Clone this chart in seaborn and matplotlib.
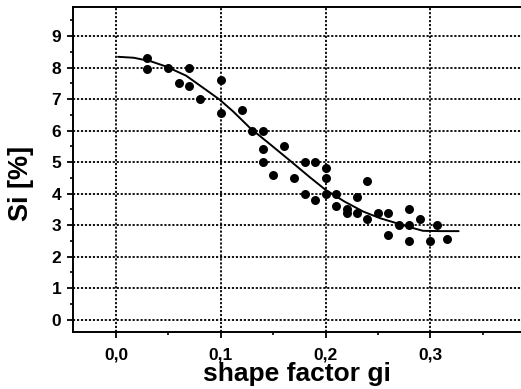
import matplotlib
matplotlib.use("Agg")
import matplotlib.pyplot as plt
import seaborn as sns
import pandas as pd
from matplotlib.ticker import MultipleLocator

# measured points
shape_factor = [0.03, 0.03, 0.05, 0.06, 0.07, 0.07, 0.08, 0.10, 0.10, 0.12,
                0.13, 0.14, 0.14, 0.14, 0.15, 0.16, 0.17, 0.18, 0.18, 0.19,
                0.19, 0.20, 0.20, 0.20, 0.21, 0.21, 0.22, 0.22, 0.23, 0.23,
                0.24, 0.24, 0.25, 0.26, 0.26, 0.27, 0.28, 0.28, 0.28, 0.29,
                0.30, 0.306, 0.316]
si_percent = [8.3, 7.95, 8.0, 7.5, 8.0, 7.4, 7.0, 7.6, 6.55, 6.65,
              6.0, 6.0, 5.4, 5.0, 4.6, 5.5, 4.5, 5.0, 4.0, 5.0,
              3.8, 4.8, 4.5, 4.0, 4.0, 3.6, 3.5, 3.4, 3.9, 3.4,
              4.4, 3.2, 3.4, 3.4, 2.7, 3.0, 3.5, 3.0, 2.5, 3.2,
              2.5, 3.0, 2.55]

# fitted curve
fit_x = [0.002, 0.017, 0.033, 0.048, 0.067, 0.086, 0.099, 0.112, 0.128, 0.148,
         0.167, 0.185, 0.200, 0.218, 0.236, 0.252, 0.268, 0.282, 0.293, 0.310, 0.327]
fit_y = [8.34, 8.31, 8.20, 8.03, 7.74, 7.29, 6.98, 6.60, 6.08, 5.54,
         5.02, 4.52, 4.12, 3.75, 3.43, 3.22, 3.06, 2.92, 2.82, 2.81, 2.81]

x_ticks = [0.0, 0.1, 0.2, 0.3]
x_tick_labels = ["0,0", "0,1", "0,2", "0,3"]
y_ticks = [0, 1, 2, 3, 4, 5, 6, 7, 8, 9]

sns.set_style("ticks")
plt.rcParams['font.family'] = ['Liberation Sans', 'DejaVu Sans']
plt.rcParams['font.weight'] = 'bold'
plt.rcParams['axes.labelcolor'] = 'black'
plt.rcParams['text.color'] = 'black'

fig = plt.figure(figsize=(5.21, 3.89), dpi=100)
ax = fig.add_axes([73/521, (389-332)/389, 1.0 - 73/521, (332-7)/389])

pts = pd.DataFrame({"x": shape_factor, "y": si_percent})
fit = pd.DataFrame({"x": fit_x, "y": fit_y})

sns.lineplot(data=fit, x="x", y="y", ax=ax, color="black", linewidth=1.4,
             sort=False, estimator=None, zorder=3)
sns.scatterplot(data=pts, x="x", y="y", ax=ax, color="black", s=42,
                edgecolor="black", linewidth=0, zorder=4)

ax.set_xlim(-0.041, 0.3865)
ax.set_ylim(-0.39, 9.92)
ax.set_xticks(x_ticks)
ax.set_xticklabels(x_tick_labels)
ax.set_yticks(y_ticks)
ax.xaxis.set_minor_locator(MultipleLocator(0.05))
ax.yaxis.set_minor_locator(MultipleLocator(0.5))

ax.grid(True, which="major", color="black", linestyle=(0, (1.2, 1.0)), linewidth=1.3)
ax.set_axisbelow(True)

for side in ["left", "bottom", "top"]:
    ax.spines[side].set_color("black")
    ax.spines[side].set_linewidth(1.4)
ax.spines["right"].set_visible(False)

ax.tick_params(axis="both", which="major", direction="out", length=4.5, width=1.3,
               color="black", labelsize=12.5, labelcolor="black")
ax.tick_params(axis="both", which="minor", direction="out", length=2.5, width=1.2,
               color="black")
ax.tick_params(axis="x", which="major", pad=7)
ax.tick_params(axis="y", which="major", pad=4)
ax.tick_params(top=False, right=False, which="both")
for lab in ax.get_xticklabels() + ax.get_yticklabels():
    lab.set_fontweight("bold")

ax.set_xlabel("shape factor gi", fontsize=19, fontweight="bold", labelpad=-1,
              color="black")
ax.set_ylabel("Si [%]", fontsize=19.5, fontweight="bold", color="black")
ax.yaxis.set_label_coords(-0.087, 0.458)

fig.savefig("out.png", dpi=100)
